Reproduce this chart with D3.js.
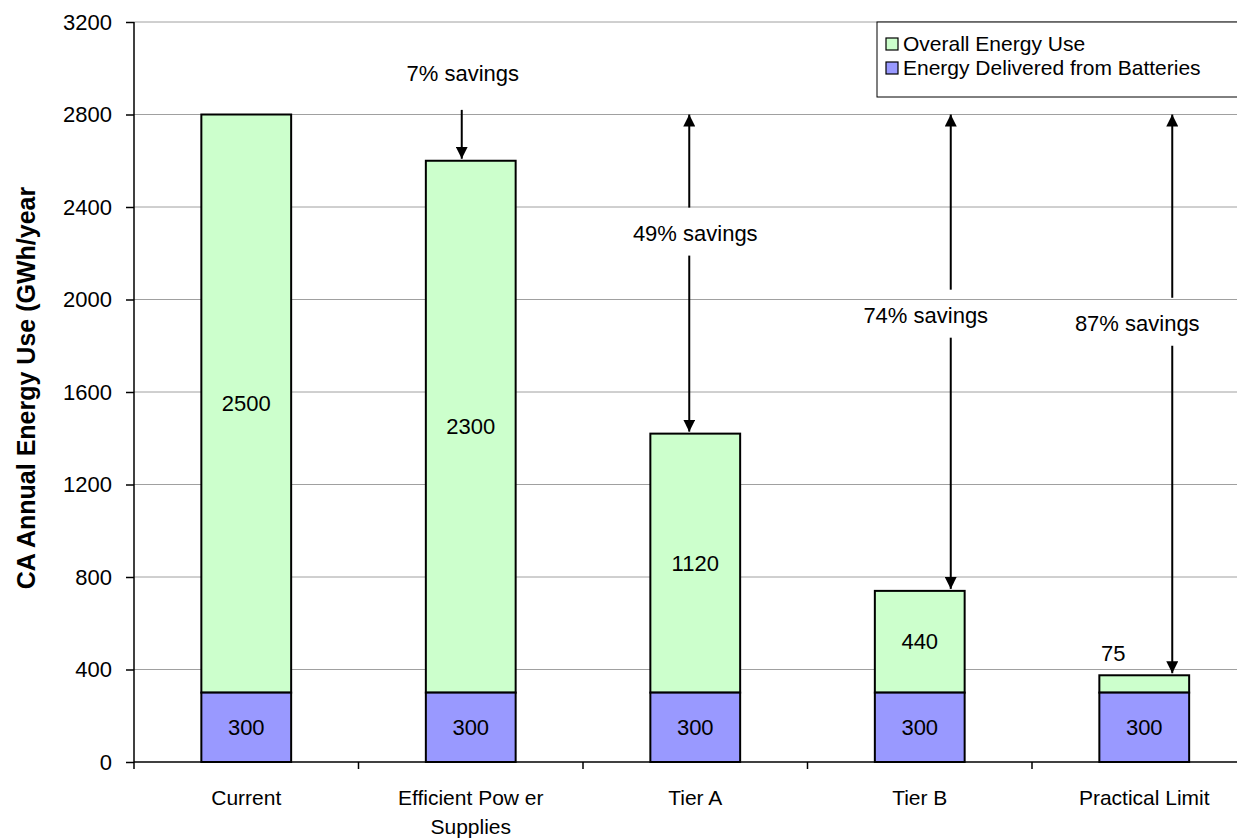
<!DOCTYPE html>
<html lang="en">
  <head>
    <meta charset="utf-8">
    <title>CA Annual Energy Use</title>
    <script src="https://d3js.org/d3.v7.min.js"></script>
    <style>
      body { margin: 0; background: #fff; }
      svg { display: block; font-family: "Liberation Sans", Arial, sans-serif; }
    </style>
  </head>
  <body>
    <script>

      // data
      var categories = ["Current", "Efficient Power Supplies", "Tier A", "Tier B", "Practical Limit"];
      var batteries  = [300, 300, 300, 300, 300];
      var overall    = [2500, 2300, 1120, 440, 75];
      var yTicks     = [0, 400, 800, 1200, 1600, 2000, 2400, 2800, 3200];
      var seriesNames = ["Overall Energy Use", "Energy Delivered from Batteries"];

      // savings arrows: category, top value, label value
      var savingsLabels = ["7% savings", "49% savings", "74% savings", "87% savings"];
      var savingsCat    = [1, 2, 3, 4];
      var savingsFrom   = [2820, 2800, 2800, 2800];
      var savingsText   = [2980, 2285, 1930, 1895];

      var width = 1237, height = 840;
      var plotLeft = 134, plotTop = 22, plotBottom = 762;
      var step = 224.5;
      var fs = 22;

      var svg = d3.select("body").append("svg")
                  .attr("width", width)
                  .attr("height", height);

      var x = d3.scaleBand()
                .domain(categories)
                .range([plotLeft, plotLeft + step * categories.length])
                .paddingInner(0.6)
                .paddingOuter(0.3);

      var y = d3.scaleLinear()
                .domain([0, 3200])
                .range([plotBottom, plotTop]);

      // gridlines
      svg.append("g").selectAll("line")
         .data(yTicks.slice(1))
         .enter().append("line")
         .attr("x1", plotLeft).attr("x2", width)
         .attr("y1", function(d) { return y(d); })
         .attr("y2", function(d) { return y(d); })
         .attr("stroke", "#a0a0a0")
         .attr("stroke-width", 1);

      // bars
      var bars = svg.append("g");
      categories.forEach(function(c, i) {
        bars.append("rect")
            .attr("x", x(c)).attr("width", x.bandwidth())
            .attr("y", y(batteries[i] + overall[i]))
            .attr("height", y(batteries[i]) - y(batteries[i] + overall[i]))
            .attr("fill", "#ccffcc").attr("stroke", "#000").attr("stroke-width", 2);
        bars.append("rect")
            .attr("x", x(c)).attr("width", x.bandwidth())
            .attr("y", y(batteries[i]))
            .attr("height", y(0) - y(batteries[i]))
            .attr("fill", "#9999ff").attr("stroke", "#000").attr("stroke-width", 2);

        bars.append("text")
            .attr("x", x(c) + x.bandwidth() / 2)
            .attr("y", y(batteries[i] / 2))
            .attr("dy", "0.35em")
            .attr("text-anchor", "middle")
            .attr("font-size", fs)
            .text(batteries[i]);

        var small = overall[i] < 200;
        bars.append("text")
            .attr("x", x(c) + x.bandwidth() / 2 + (small ? -31 : 0))
            .attr("y", small ? y(batteries[i] + overall[i]) - 22 : y(batteries[i] + overall[i] / 2))
            .attr("dy", "0.35em")
            .attr("text-anchor", "middle")
            .attr("font-size", fs)
            .text(overall[i]);
      });

      // axes
      var yAxis = svg.append("g")
         .attr("transform", "translate(" + plotLeft + ",0)")
         .call(d3.axisLeft(y).tickValues(yTicks).tickSize(8).tickPadding(14).tickFormat(d3.format("d")));
      yAxis.select(".domain").attr("stroke-width", 1.5).attr("d", "M0," + plotTop + "V" + plotBottom);
      yAxis.selectAll(".tick line").attr("stroke-width", 1.5);
      yAxis.selectAll("text").attr("font-size", fs).attr("font-family", "Liberation Sans, Arial, sans-serif").attr("fill", "#000");

      var edges = d3.range(categories.length + 1).map(function(i) { return plotLeft + i * step; });
      var xAxis = svg.append("g");
      xAxis.append("line")
           .attr("x1", plotLeft).attr("x2", width)
           .attr("y1", plotBottom).attr("y2", plotBottom)
           .attr("stroke", "#000").attr("stroke-width", 1.5);
      xAxis.selectAll(".tk").data(edges).enter().append("line")
           .attr("x1", function(d) { return d; }).attr("x2", function(d) { return d; })
           .attr("y1", plotBottom).attr("y2", plotBottom + 7)
           .attr("stroke", "#000").attr("stroke-width", 1.5);

      var xLines = [["Current"], ["Efficient Pow er", "Supplies"], ["Tier A"], ["Tier B"], ["Practical Limit"]];
      categories.forEach(function(c, i) {
        var t = xAxis.append("text")
             .attr("x", x(c) + x.bandwidth() / 2)
             .attr("y", plotBottom + 43)
             .attr("text-anchor", "middle")
             .attr("font-size", 21);
        xLines[i].forEach(function(s, k) {
          t.append("tspan").attr("x", x(c) + x.bandwidth() / 2).attr("dy", k ? 29 : 0).text(s);
        });
      });

      svg.append("text")
         .attr("transform", "translate(35," + 388 + ") rotate(-90)")
         .attr("text-anchor", "middle")
         .attr("font-size", 25)
         .attr("font-weight", "bold")
         .text("CA Annual Energy Use (GWh/year");

      // arrows
      var defs = svg.append("defs");
      defs.append("marker")
          .attr("id", "head")
          .attr("viewBox", "0 0 10 10")
          .attr("refX", 10).attr("refY", 5)
          .attr("markerWidth", 6).attr("markerHeight", 6)
          .attr("markerUnits", "strokeWidth")
          .attr("orient", "auto-start-reverse")
          .append("path").attr("d", "M0,0L10,5L0,10z").attr("fill", "#000");

      var arrowShift = [-9, -6, 31, 28];
      var textShift  = [-8, 0, 6, -7];
      savingsLabels.forEach(function(lbl, k) {
        var i = savingsCat[k], c = categories[i];
        var cx = x(c) + x.bandwidth() / 2;
        var ax = cx + arrowShift[k];
        var barTop = y(batteries[i] + overall[i]) - 2;
        var ty = y(savingsText[k]);
        if (k === 0) {
          svg.append("line")
             .attr("x1", ax).attr("x2", ax)
             .attr("y1", y(savingsFrom[k])).attr("y2", barTop)
             .attr("stroke", "#000").attr("stroke-width", 2)
             .attr("marker-end", "url(#head)");
        } else {
          svg.append("line")
             .attr("x1", ax).attr("x2", ax)
             .attr("y1", ty - 26).attr("y2", y(savingsFrom[k]))
             .attr("stroke", "#000").attr("stroke-width", 2)
             .attr("marker-end", "url(#head)");
          svg.append("line")
             .attr("x1", ax).attr("x2", ax)
             .attr("y1", ty + 22).attr("y2", barTop)
             .attr("stroke", "#000").attr("stroke-width", 2)
             .attr("marker-end", "url(#head)");
        }
        svg.append("text")
           .attr("x", cx + textShift[k])
           .attr("y", ty)
           .attr("dy", "0.35em")
           .attr("text-anchor", "middle")
           .attr("font-size", fs)
           .text(lbl);
      });

      // legend
      var legend = svg.append("g");
      legend.append("rect")
            .attr("x", 877).attr("y", 22).attr("width", 380).attr("height", 75)
            .attr("fill", "#fff").attr("stroke", "#000").attr("stroke-width", 1);
      var swatch = ["#ccffcc", "#9999ff"];
      seriesNames.forEach(function(s, k) {
        legend.append("rect")
              .attr("x", 886).attr("y", 38 + k * 24).attr("width", 12).attr("height", 12)
              .attr("fill", swatch[k]).attr("stroke", "#000").attr("stroke-width", 1.2);
        legend.append("text")
              .attr("x", 903).attr("y", 44 + k * 24)
              .attr("dy", "0.35em")
              .attr("font-size", 21)
              .text(s);
      });

    </script>
  </body>
</html>
